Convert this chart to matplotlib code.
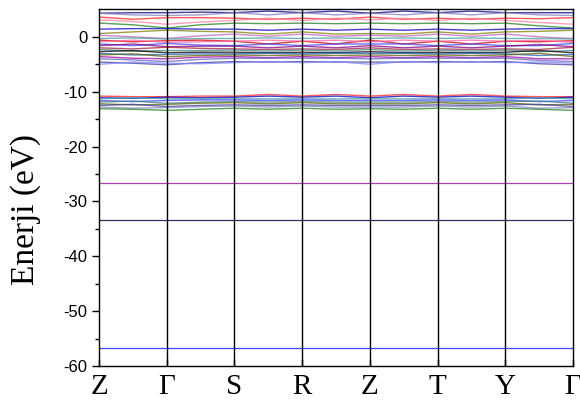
import matplotlib
matplotlib.use("Agg")
import matplotlib.pyplot as plt
import numpy as np

plt.rcParams["axes.unicode_minus"] = False

# high-symmetry path labels
kpoint_labels = ["Z", "Γ", "S", "R", "Z", "T", "Y", "Γ"]
# sample positions along path: high-symmetry points and midpoints
k_samples = [0, 0.5, 1, 1.5, 2, 2.5, 3, 3.5, 4, 4.5, 5, 5.5, 6, 6.5, 7]

# upper valence / conduction group (eV) at k_samples
upper_bands = [
    [4.3, 4.4, 4.4, 4.5, 4.4, 4.7, 4.4, 4.7, 4.3, 4.7, 4.4, 4.7, 4.4, 4.4, 4.4],
    [4.3, 4.0, 3.9, 4.0, 4.4, 4.0, 4.4, 4.0, 4.3, 4.0, 4.4, 4.0, 4.4, 4.0, 3.9],
    [3.6, 3.2, 3.5, 3.5, 3.4, 3.2, 3.4, 3.2, 3.6, 3.2, 3.4, 3.2, 3.4, 3.3, 3.5],
    [3.1, 2.8, 2.3, 2.7, 3.0, 3.4, 3.0, 3.4, 3.1, 3.4, 3.0, 3.4, 3.0, 2.6, 2.3],
    [2.5, 2.2, 1.6, 2.2, 2.5, 2.4, 2.5, 2.4, 2.5, 2.4, 2.5, 2.4, 2.5, 2.0, 1.6],
    [1.4, 1.5, 1.5, 1.4, 1.4, 1.2, 1.4, 1.2, 1.4, 1.2, 1.4, 1.2, 1.4, 1.5, 1.5],
    [0.6, 0.9, 1.2, 1.0, 0.9, 0.5, 0.9, 0.5, 0.6, 0.5, 0.9, 0.5, 0.9, 1.0, 1.2],
    [0.3, 0.0, -0.3, 0.2, 0.5, 0.1, 0.5, 0.1, 0.3, 0.1, 0.5, 0.1, 0.5, 0.0, -0.3],
    [-0.3, -0.2, -0.4, -0.3, -0.3, -0.2, -0.3, -0.2, -0.3, -0.2, -0.3, -0.2, -0.3, -0.3, -0.4],
    [-0.6, -0.9, -0.7, -0.6, -0.8, -1.3, -0.8, -1.3, -0.6, -1.3, -0.8, -1.3, -0.8, -0.9, -0.7],
    [-0.9, -0.6, -1.0, -0.9, -0.8, -0.6, -0.8, -0.6, -0.9, -0.6, -0.8, -0.6, -0.8, -0.6, -1.0],
    [-1.3, -1.6, -1.2, -1.5, -1.6, -1.3, -1.6, -1.3, -1.3, -1.3, -1.6, -1.3, -1.6, -1.6, -1.2],
    [-1.6, -1.3, -1.8, -1.7, -1.7, -2.0, -1.7, -2.0, -1.6, -2.0, -1.7, -2.0, -1.7, -1.4, -1.8],
    [-2.0, -2.2, -1.9, -2.1, -2.2, -2.3, -2.2, -2.3, -2.0, -2.3, -2.2, -2.3, -2.2, -2.3, -1.9],
    [-2.3, -2.6, -2.5, -2.5, -2.4, -2.6, -2.4, -2.6, -2.3, -2.6, -2.4, -2.6, -2.4, -2.7, -2.5],
    [-2.7, -2.5, -2.9, -2.8, -2.8, -2.9, -2.8, -2.9, -2.7, -2.9, -2.8, -2.9, -2.8, -2.5, -2.9],
    [-3.0, -3.3, -3.2, -3.1, -3.1, -3.0, -3.1, -3.0, -3.0, -3.0, -3.1, -3.0, -3.1, -3.4, -3.2],
    [-3.3, -3.1, -3.6, -3.4, -3.3, -3.4, -3.3, -3.4, -3.3, -3.4, -3.3, -3.4, -3.3, -3.0, -3.6],
    [-3.6, -3.9, -4.0, -3.7, -3.6, -3.8, -3.6, -3.8, -3.6, -3.8, -3.6, -3.8, -3.6, -4.0, -4.0],
    [-4.0, -4.2, -4.5, -4.1, -3.9, -3.9, -3.9, -3.9, -4.0, -3.9, -3.9, -3.9, -3.9, -4.3, -4.5],
    [-4.6, -4.8, -5.1, -4.7, -4.5, -4.6, -4.5, -4.6, -4.6, -4.6, -4.5, -4.6, -4.5, -4.9, -5.1],
    [-5.0, -4.6, -4.8, -4.9, -4.7, -4.5, -4.7, -4.5, -5.0, -4.5, -4.7, -4.5, -4.7, -4.6, -4.8],
]

# lower valence group (eV)
lower_bands = [
    [-10.8, -10.9, -10.9, -10.8, -10.8, -10.5, -10.8, -10.5, -10.8, -10.5, -10.8, -10.5, -10.8, -10.9, -10.9],
    [-11.1, -11.2, -11.0, -11.1, -11.0, -10.8, -11.0, -10.8, -11.1, -10.8, -11.0, -10.8, -11.0, -11.2, -11.0],
    [-11.3, -11.1, -11.3, -11.3, -11.3, -11.3, -11.3, -11.3, -11.3, -11.3, -11.3, -11.3, -11.3, -11.1, -11.3],
    [-11.6, -11.8, -11.6, -11.5, -11.5, -11.6, -11.5, -11.6, -11.6, -11.6, -11.5, -11.6, -11.5, -11.8, -11.6],
    [-11.9, -11.7, -12.1, -11.9, -11.8, -11.9, -11.8, -11.9, -11.9, -11.9, -11.8, -11.9, -11.8, -11.7, -12.1],
    [-12.2, -12.4, -12.3, -12.1, -12.0, -12.2, -12.0, -12.2, -12.2, -12.2, -12.0, -12.2, -12.0, -12.4, -12.3],
    [-12.5, -12.3, -12.7, -12.5, -12.4, -12.5, -12.4, -12.5, -12.5, -12.5, -12.4, -12.5, -12.4, -12.3, -12.7],
    [-12.8, -13.0, -12.9, -12.7, -12.6, -12.8, -12.6, -12.8, -12.8, -12.8, -12.6, -12.8, -12.6, -13.0, -12.9],
    [-13.1, -13.2, -13.4, -13.2, -13.0, -13.2, -13.0, -13.2, -13.1, -13.2, -13.0, -13.2, -13.0, -13.2, -13.4],
]

# deep flat core levels (eV)
core_levels = [-26.7, -33.3, -56.7]
core_colors = ["#b040b0", "#303060", "#4040ff"]

band_colors = ["#000080", "#8080c0", "#ff2020", "#ff80a0", "#208020", "#0000c0",
               "#808000", "#c060c0", "#40a0a0", "#d00000", "#ff60a0", "#4040ff",
               "#800080", "#a02040", "#408080", "#000000", "#2060c0", "#606000",
               "#a000a0", "#6060c0", "#4040a0", "#8080ff"]

fig = plt.figure(figsize=(5.8, 4.09), dpi=100)
ax = fig.add_axes([0.1707, 0.105, 0.8173, 0.872])

for i, b in enumerate(upper_bands):
    ax.plot(k_samples, b, color=band_colors[i % len(band_colors)], lw=1.0, alpha=0.75)
for i, b in enumerate(lower_bands):
    ax.plot(k_samples, b, color=band_colors[(i * 3 + 2) % len(band_colors)], lw=1.0, alpha=0.75)
for e, c in zip(core_levels, core_colors):
    ax.plot([k_samples[0], k_samples[-1]], [e, e], color=c, lw=0.9)

for k in range(1, len(kpoint_labels) - 1):
    ax.axvline(k, color="black", lw=1.0)

ax.set_xlim(0, len(kpoint_labels) - 1)
ax.set_ylim(-60, 5)
ax.set_xticks(range(len(kpoint_labels)))
ax.set_xticklabels(kpoint_labels, fontfamily="Liberation Serif", fontsize=21)
ax.set_yticks(np.arange(-60, 1, 10))
ax.set_yticks(np.arange(-55, 5, 10), minor=True)
for lab in ax.get_yticklabels():
    lab.set_fontfamily("Liberation Sans")
    lab.set_fontsize(12)
ax.tick_params(axis="y", which="major", direction="out", length=5, width=1)
ax.tick_params(axis="y", which="minor", direction="out", length=3, width=1)
ax.tick_params(axis="x", which="major", direction="in", length=5, width=1, pad=6)
for s in ax.spines.values():
    s.set_linewidth(1.0)

ax.set_ylabel("Enerji (eV)", fontfamily="Liberation Serif", fontsize=24)
ax.yaxis.set_label_coords(-0.122, 0.44)

fig.savefig("out.png", dpi=100)
